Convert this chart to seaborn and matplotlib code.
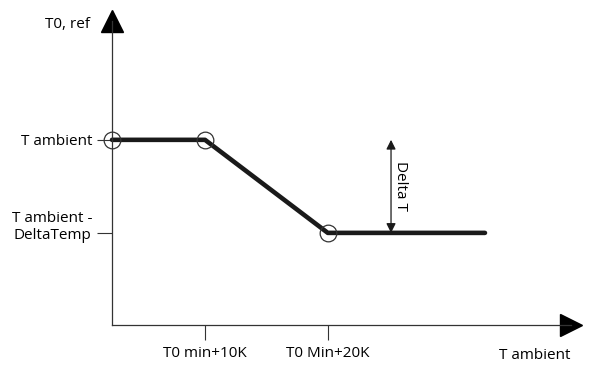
import matplotlib.pyplot as plt
import pandas as pd
import seaborn as sns
from matplotlib.transforms import ScaledTranslation

# T0,ref curve, arbitrary units on both axes
t_amb = [0.0, 1.0, 2.32, 4.01]
t0_ref = [2.01, 2.01, 1.0, 1.0]
knee_x = t_amb[:3]
knee_y = t0_ref[:3]

xtick_pos = [1.0, 2.32]
xtick_labels = ['T0 min+10K', 'T0 Min+20K']
ytick_pos = [1.0, 2.01]
ytick_labels = ['T ambient -\nDeltaTemp', 'T ambient']
delta_x = 3.0

df = pd.DataFrame({'T ambient': t_amb, 'T0,ref': t0_ref})

sns.set_style('white')
plt.rcParams['font.family'] = ['Open Sans', 'DejaVu Sans']
plt.rcParams['text.color'] = 'black'
plt.rcParams['xtick.color'] = 'black'
plt.rcParams['ytick.color'] = 'black'

fig = plt.figure(figsize=(5.89, 3.65), dpi=100)
ax = fig.add_axes([112 / 589, 40 / 365, 459 / 589, 304 / 365])

sns.lineplot(data=df, x='T ambient', y='T0,ref', ax=ax, color='#1a1a1a',
             linewidth=3.3, clip_on=False, solid_capstyle='round')
ax.plot(knee_x, knee_y, 'o', ms=12, mfc='none', mec='#333333', mew=0.9, clip_on=False)

ax.set_xlim(0, 4.935)
ax.set_ylim(0, 3.30)

# axes with arrow heads
for s in ['top', 'right']:
    ax.spines[s].set_visible(False)
for s in ['left', 'bottom']:
    ax.spines[s].set_color('#333333')
    ax.spines[s].set_linewidth(0.9)
ax.plot(1, 0, marker='>', ms=16.5, color='black', transform=ax.transAxes, clip_on=False)
ax.plot(0, 1, marker='^', ms=16, color='black', transform=ax.transAxes, clip_on=False)

ax.set_xticks(xtick_pos, xtick_labels)
ax.set_yticks(ytick_pos, ytick_labels)
ax.tick_params(axis='x', bottom=True, length=11, width=0.8, color='#333333',
               labelsize=11, pad=4)
ax.tick_params(axis='y', left=True, length=11, width=0.8, color='#333333',
               labelsize=11, pad=3)
lab = ax.get_yticklabels()[0]
lab.set_multialignment('center')
lab.set_transform(lab.get_transform() + ScaledTranslation(0, 0.09, fig.dpi_scale_trans))

ax.set_xlabel('')
ax.set_ylabel('')
ax.text(588 / 589, -0.099, 'T ambient', transform=ax.transAxes, fontsize=11,
        ha='right', va='center')
ax.text(-0.048, 0.988, 'T0, ref', transform=ax.transAxes, fontsize=11,
        ha='right', va='center')

# Delta T dimension arrow
ax.annotate('', xy=(delta_x, t0_ref[0]), xytext=(delta_x, t0_ref[-1]),
            arrowprops=dict(arrowstyle='<|-|>', color='#1a1a1a', lw=0.9,
                            mutation_scale=14, shrinkA=0, shrinkB=0))
ax.text(delta_x + 0.02, (t0_ref[0] + t0_ref[-1]) / 2, 'Delta T', rotation=-90,
        fontsize=11, ha='left', va='center')

fig.savefig('out.png', dpi=100)
